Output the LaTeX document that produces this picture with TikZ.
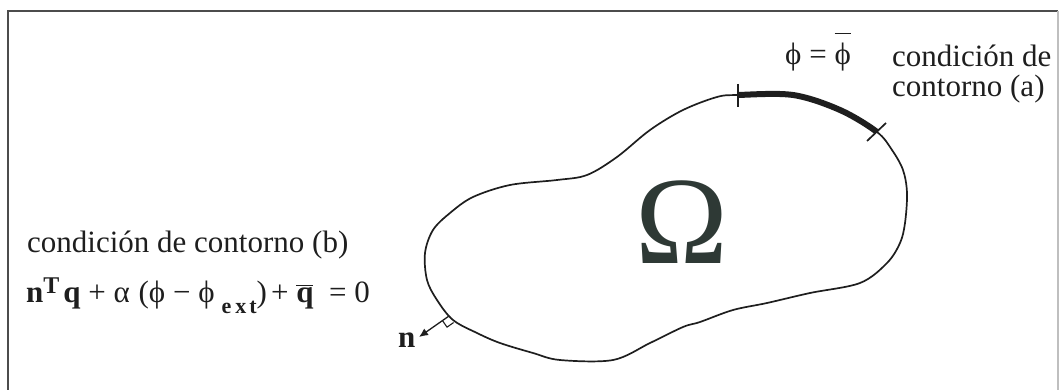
\documentclass[tikz,border=0pt]{standalone}
\usepackage{fontspec}
\setmainfont{Liberation Serif}
\usepackage{tikz}
\usetikzlibrary{arrows.meta,positioning,calc}

\definecolor{ink}{HTML}{1E1E1E}
\definecolor{omegaink}{HTML}{2E3935}
\newcommand{\hibar}[2]{\ensuremath{\overline{\hbox{\raisebox{0pt}[\dimexpr\height+#1\relax]{#2}}}}}

\begin{document}
\begin{tikzpicture}[
  x=1pt, y=-1pt,
  font=\fontsize{31}{30}\selectfont,
  lbl/.style={anchor=base west, inner sep=0pt, text=ink},
  bigomega/.style={anchor=base, inner sep=0pt, text=omegaink, font=\fontsize{125}{125}\selectfont},
  frame/.style={draw=black!70, line width=1.4pt},
  contour/.style={draw=ink, line width=1.7pt},
  tick/.style={draw=ink, line width=1.7pt},
  normal/.style={-{Latex[length=9pt,width=8pt]}, draw=ink, line width=1.3pt}
]
\useasboundingbox (0,0) rectangle (1059,390);

% open frame
\draw[frame] (8,400) -- (8,11) -- (1058,11);
\draw[frame, draw=black!25] (1058,11) -- (1058,400);

% domain boundary
\def\boundary{plot[smooth cycle, tension=0.55] coordinates {
  (425,253) (433,230) (450,213) (473,197) (510,185) (557,180) (587,175)
  (617,157) (650,130) (683,110) (717,97) (738,95) (793,95) (840,110)
  (877,132) (892,150) (903,170) (907,193) (905,223) (900,243) (887,263)
  (860,283) (810,293) (767,303) (733,310) (700,322) (683,327) (650,343)
  (613,360) (560,360) (533,353) (500,343) (477,333) (453,320) (437,300)
  (427,280)}}
\draw[contour] \boundary;
\begin{scope}
  \clip (738,60) -- (738,125) -- (850,158) -- (905,105) -- (870,60) -- cycle;
  \draw[contour, line width=6pt] \boundary;
\end{scope}
\draw[tick] (738,84) -- (738,107);
\draw[tick] (867,141) -- (886,123);

\node[bigomega] (omega) at (682,263) {Ω};

% condition (a)
\node[lbl] (phieq) at (785,65) {ϕ = \hibar{9pt}{ϕ}};
\node[lbl] (conda) at (892,67) {condición de};
\node[lbl] (contoa) at (892,97) {contorno (a)};

% condition (b)
\node[lbl] (condb) at (27,252) {condición de contorno (b)};
\node[lbl] (robin) at (26,302) {\textbf{n}\raisebox{9pt}{\fontsize{24}{24}\selectfont\textbf{T}}\hspace{4pt}\textbf{q}
  + α\hspace{1pt} (ϕ − ϕ\hspace{7pt}\raisebox{-11pt}{\fontsize{22}{22}\selectfont\textbf{e\hspace{4pt}x\hspace{3pt}t}})\hspace{4pt}+
  \hibar{0pt}{\textbf{q}}\hspace{8pt} = 0};

% outward normal
\coordinate (foot) at (449,316);
\coordinate (ntip) at (419,337);
\node[lbl] (nlab) at (398,347) {\textbf{n}};
\draw[normal] (foot) -- (ntip);
\coordinate (sqa) at ($(foot)!8pt!(ntip)$);
\coordinate (sqb) at ($(foot)!8pt!90:(ntip)$);
\draw[ink, line width=1.1pt] (sqa) -- ($(sqa)+(sqb)-(foot)$) -- (sqb);
\end{tikzpicture}
\end{document}
